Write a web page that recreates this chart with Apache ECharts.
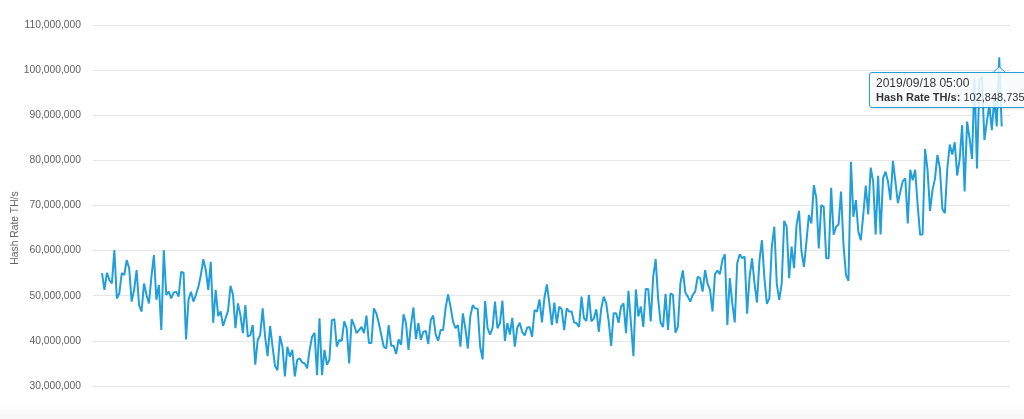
<!DOCTYPE html>
<html>
<head>
<meta charset="utf-8">
<script src="https://cdn.jsdelivr.net/npm/echarts@6/dist/echarts.min.js"></script>
<style>
html,body{margin:0;padding:0;overflow:hidden;background:#ffffff;}
#chart{width:1024px;height:419px;position:relative;overflow:hidden;}
</style>
</head>
<body>
<div id="chart"></div>
<script>
// ---- data (values in millions of TH/s) ----
const seriesName = 'Hash Rate TH/s';
const endDate = '2019/09/19';          // date of the last point
const tooltipDate = '2019/09/18 05:00'; // point shown in the tooltip
const yTickValues = [20, 30, 40, 50, 60, 70, 80, 90, 100, 110];

const hashRate = [
  55.0, 51.3, 55.1, 53.5, 52.7, 60.1, 49.4, 50.5, 55.0, 54.6,
  57.9, 56.1, 48.7, 51.3, 55.7, 47.9, 46.5, 52.7, 50.2, 48.3,
  54.2, 59.0, 49.1, 52.4, 42.4, 60.1, 50.2, 50.9, 49.4, 50.7,
  50.9, 49.8, 55.3, 55.1, 40.3, 49.1, 50.9, 48.7, 50.2, 52.0,
  54.6, 58.1, 55.7, 51.3, 57.5, 44.0, 51.3, 45.5, 46.5, 43.3,
  45.0, 46.7, 52.2, 50.2, 42.8, 48.3, 45.7, 41.7, 47.9, 40.9,
  41.3, 43.5, 34.7, 40.2, 41.3, 47.2, 40.9, 36.6, 43.3, 38.7,
  34.4, 33.5, 41.1, 38.7, 32.1, 38.7, 36.5, 38.0, 32.1, 35.8,
  36.1, 35.2, 35.0, 33.9, 38.0, 40.9, 41.8, 32.4, 45.0, 32.4,
  38.0, 34.7, 35.8,
  44.6, 44.8, 38.7, 40.2, 40.0, 44.3, 42.8, 35.0, 44.8, 43.5,
  41.7, 42.4, 43.1, 41.7, 45.6, 39.5, 39.5, 47.2, 46.1, 43.9,
  41.3, 38.7, 38.3, 43.5, 38.9, 38.9, 37.1, 40.3, 39.1, 45.9,
  43.9, 38.0, 43.5, 47.4, 40.4, 43.9, 40.2, 42.0, 42.2, 39.3,
  44.6, 45.6, 41.4, 40.0, 42.4, 42.4, 47.2, 50.3, 47.6, 44.3,
  42.8, 43.5, 38.7, 46.1, 42.8, 38.3, 45.4, 47.9, 47.2, 47.1,
  38.7, 35.9, 48.8, 42.8, 41.4, 42.8, 48.7, 42.8, 43.9, 48.9,
  40.0, 43.9, 41.4, 45.1, 38.7, 42.9, 44.0, 42.0, 41.2, 42.9,
  43.1, 40.9, 46.8, 46.5, 49.2, 44.1, 49.6, 52.5, 48.3, 43.5,
  48.5, 43.9,
  47.6, 47.0, 42.4, 47.2, 46.5, 46.5, 44.1, 43.9, 43.1, 49.8,
  45.0, 44.4, 50.2, 44.3, 45.0, 47.0, 42.0, 47.2, 49.8, 48.3,
  44.3, 38.9, 46.1, 46.1, 44.0, 47.6, 48.3, 41.7, 51.1, 43.9,
  36.6, 51.4, 45.4, 47.6, 43.1, 51.5, 51.5, 44.3, 54.2, 58.1,
  49.4, 44.0, 43.1, 50.4, 42.4, 50.5, 50.2, 41.8, 43.1, 52.7,
  55.6, 50.7, 49.8, 48.7, 50.2, 50.9, 54.2, 53.9, 50.9, 55.7,
  52.7, 51.3, 46.5, 54.8, 55.6, 54.8, 57.9, 59.2, 43.5, 53.9,
  48.3, 44.1, 57.2, 59.2, 58.3, 58.7, 46.0, 54.2, 58.3, 52.7,
  48.5, 57.9, 62.3, 53.9, 48.2, 49.4, 60.9, 65.3, 52.7, 49.1,
  52.7, 66.6, 65.3,
  53.9, 60.9, 56.1, 65.7, 68.8, 59.8, 56.4, 62.0, 67.9, 66.0,
  74.5, 71.6, 60.5, 70.1, 69.7, 58.3, 58.3, 73.9, 63.5, 65.3,
  65.8, 73.1, 61.2, 54.6, 53.3, 79.7, 67.5, 71.2, 64.2, 62.3,
  67.9, 74.4, 68.0, 78.4, 75.3, 63.6, 76.6, 63.6, 76.0, 77.5,
  75.3, 71.2, 79.9, 75.3, 70.5, 73.1, 75.4, 76.0, 66.0, 77.9,
  75.6, 77.9, 70.1, 63.5, 63.6, 82.5, 77.9, 68.8, 73.4, 75.9,
  81.2, 78.2, 69.2, 68.3, 78.2, 83.5, 81.3, 84.0, 76.6, 80.3,
  87.8, 73.1, 88.6, 84.9, 80.3, 98.2, 78.2, 97.8, 98.5, 84.5,
  88.6, 92.3, 86.7, 93.7, 87.5, 102.848735, 87.5
];

// ---- category labels (one per day, 05:00) ----
function pad(n){ return (n < 10 ? '0' : '') + n; }
const dates = [];
(function(){
  const p = endDate.split('/').map(Number);
  const end = Date.UTC(p[0], p[1]-1, p[2]);
  const n = hashRate.length;
  for (let i = 0; i < n; i++) {
    const d = new Date(end - (n - 1 - i) * 86400000);
    dates.push(d.getUTCFullYear() + '/' + pad(d.getUTCMonth()+1) + '/' + pad(d.getUTCDate()) + ' 05:00');
  }
})();
const tooltipIndex = dates.indexOf(tooltipDate);

function fmtInt(v){ return Math.round(v * 1e6).toString().replace(/\B(?=(\d{3})+(?!\d))/g, ','); }

const lineColor = '#229fd9';
const chart = echarts.init(document.getElementById('chart'), null, {renderer:'canvas'});

const option = {
  animation: false,
  backgroundColor: '#ffffff',
  grid: { left: 93, width: 917, top: 25, height: 406.1, containLabel: false, outerBoundsMode: 'none' },
  xAxis: {
    type: 'value',
    min: -3.64, max: 367.36,
    show: false
  },
  yAxis: {
    type: 'value',
    min: yTickValues[0], max: yTickValues[yTickValues.length-1], interval: 10,
    name: seriesName,
    nameLocation: 'middle',
    nameGap: 73,
    nameMoveOverlap: false,
    nameTextStyle: { color: '#666666', fontSize: 10.3, fontFamily: 'Liberation Sans, Arial, sans-serif' },
    axisLine: { show: false },
    axisTick: { show: false },
    axisLabel: {
      color: '#5f5f5f', fontSize: 10.3, margin: 12,
      fontFamily: 'Liberation Sans, Arial, sans-serif',
      formatter: function(v){ return fmtInt(v); }
    },
    splitLine: { lineStyle: { color: '#e6e6e6', width: 1 } }
  },
  tooltip: {
    trigger: 'axis',
    triggerOn: 'none',
    alwaysShowContent: true,
    axisPointer: { type: 'none' },
    backgroundColor: 'rgba(248,251,254,0.85)',
    borderColor: lineColor,
    borderWidth: 1,
    borderRadius: 3,
    padding: [3, 6],
    extraCssText: 'box-shadow:1px 1px 3px rgba(0,0,0,0.12);',
    textStyle: { color: '#333333', fontSize: 12, fontFamily: 'Liberation Sans, Arial, sans-serif' },
    position: function(point){ return [point[0] - 130, point[1] + 15]; },
    formatter: function(params){
      const p = Array.isArray(params) ? params[0] : params;
      const i = p.dataIndex;
      return '<div style="line-height:14px;font-size:12px;color:#333">' + dates[i] + '</div>' +
             '<div style="line-height:14px;font-size:11px;color:#333"><b>' + seriesName + ':</b> ' + fmtInt(hashRate[i]) + '</div>';
    }
  },
  series: [{
    name: seriesName,
    type: 'line',
    data: hashRate.map(function(v, i){ return [i, v]; }),
    showSymbol: false,
    symbol: 'none',
    lineStyle: { color: lineColor, width: 2 },
    itemStyle: { color: lineColor },
    emphasis: { disabled: true }
  }]
};
chart.setOption(option);

const pt = chart.convertToPixel({gridIndex: 0}, [tooltipIndex, hashRate[tooltipIndex]]);
chart.setOption({
  graphic: [
    {
      type: 'rect', silent: true, z: 0,
      shape: { x: 0, y: 404, width: 1024, height: 15 },
      style: { fill: new echarts.graphic.LinearGradient(0, 0, 0, 1, [
        { offset: 0, color: 'rgba(0,0,0,0)' }, { offset: 1, color: 'rgba(0,0,0,0.035)' }]) }
    },
    {
      type: 'polyline', silent: true, z: 100,
      shape: { points: [[pt[0]-6, pt[1]+15], [pt[0], pt[1]+9.5], [pt[0]+6, pt[1]+15]] },
      style: { stroke: lineColor, lineWidth: 1, fill: 'rgba(248,251,254,0.85)' }
    }
  ]
});
chart.dispatchAction({ type: 'showTip', x: pt[0], y: pt[1] });
</script>
</body>
</html>
